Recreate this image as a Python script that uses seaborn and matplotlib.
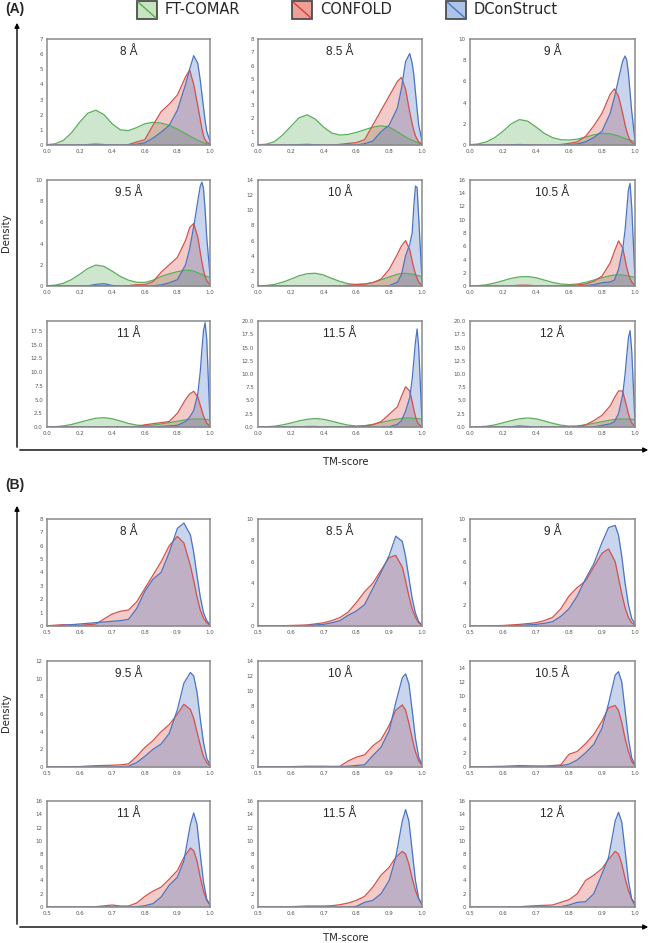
import numpy as np
import pandas as pd
import matplotlib
matplotlib.use('Agg')
import matplotlib.pyplot as plt
import seaborn as sns
from matplotlib.patches import Rectangle, FancyArrowPatch
from matplotlib.lines import Line2D

# distance cutoffs (one subplot each)
cutoffs = ['8 Å', '8.5 Å', '9 Å', '9.5 Å', '10 Å', '10.5 Å', '11 Å', '11.5 Å', '12 Å']

# ---- panel (A): density of TM-score ----
x_a = [0.0, 0.05, 0.1, 0.15, 0.2, 0.25, 0.3, 0.35, 0.4, 0.45, 0.5, 0.55, 0.6, 0.65, 0.7,
       0.75, 0.8, 0.85, 0.875, 0.9, 0.925, 0.94, 0.95, 0.96, 0.97, 0.98, 1.0]

ftcomar_a = [
    [0.02, 0.08, 0.3, 0.8, 1.5, 2.1, 2.3, 2.0, 1.4, 1.0, 0.95, 1.15, 1.4, 1.5, 1.45, 1.3, 1.05, 0.75, 0.6, 0.45, 0.32, 0.25, 0.2, 0.16, 0.12, 0.09, 0.04],
    [0.02, 0.06, 0.25, 0.75, 1.4, 2.05, 2.28, 1.95, 1.35, 0.9, 0.75, 0.8, 0.95, 1.15, 1.35, 1.45, 1.35, 1.0, 0.8, 0.6, 0.45, 0.35, 0.3, 0.25, 0.2, 0.15, 0.05],
    [0.03, 0.1, 0.3, 0.7, 1.3, 2.0, 2.4, 2.25, 1.7, 1.1, 0.7, 0.5, 0.47, 0.55, 0.75, 0.95, 1.1, 1.05, 0.95, 0.85, 0.7, 0.6, 0.55, 0.5, 0.45, 0.4, 0.3],
    [0.03, 0.08, 0.25, 0.6, 1.1, 1.65, 1.98, 1.85, 1.4, 0.9, 0.55, 0.35, 0.33, 0.55, 0.9, 1.15, 1.35, 1.5, 1.48, 1.4, 1.25, 1.15, 1.1, 1.0, 0.95, 0.9, 0.8],
    [0.02, 0.07, 0.2, 0.5, 0.9, 1.35, 1.62, 1.68, 1.45, 1.0, 0.6, 0.3, 0.2, 0.25, 0.45, 0.8, 1.2, 1.55, 1.65, 1.68, 1.6, 1.55, 1.5, 1.45, 1.4, 1.35, 1.25],
    [0.02, 0.06, 0.18, 0.45, 0.8, 1.15, 1.38, 1.42, 1.25, 0.9, 0.55, 0.3, 0.22, 0.3, 0.55, 0.9, 1.25, 1.55, 1.65, 1.7, 1.65, 1.6, 1.55, 1.5, 1.45, 1.4, 1.3],
    [0.02, 0.06, 0.2, 0.45, 0.85, 1.25, 1.6, 1.7, 1.5, 1.1, 0.65, 0.35, 0.25, 0.35, 0.55, 0.8, 1.05, 1.3, 1.4, 1.45, 1.45, 1.45, 1.45, 1.42, 1.4, 1.38, 1.3],
    [0.02, 0.05, 0.15, 0.4, 0.75, 1.15, 1.45, 1.6, 1.45, 1.1, 0.7, 0.35, 0.2, 0.25, 0.5, 0.85, 1.2, 1.5, 1.6, 1.7, 1.7, 1.65, 1.62, 1.6, 1.58, 1.55, 1.5],
    [0.02, 0.05, 0.15, 0.4, 0.8, 1.2, 1.55, 1.7, 1.55, 1.15, 0.7, 0.35, 0.18, 0.2, 0.4, 0.7, 1.0, 1.3, 1.4, 1.5, 1.5, 1.5, 1.5, 1.5, 1.48, 1.45, 1.4],
]
confold_a = [
    [0, 0, 0, 0, 0, 0, 0, 0, 0, 0, 0.03, 0.2, 0.35, 1.3, 2.2, 2.7, 3.3, 4.5, 4.95, 4.0, 2.6, 1.7, 1.1, 0.6, 0.35, 0.2, 0.05],
    [0, 0, 0, 0, 0, 0, 0, 0, 0, 0, 0.05, 0.12, 0.18, 0.4, 1.5, 2.6, 3.7, 4.8, 5.1, 4.2, 2.5, 1.6, 1.1, 0.7, 0.45, 0.25, 0.05],
    [0, 0, 0, 0, 0, 0, 0, 0, 0, 0, 0, 0.05, 0.15, 0.3, 0.8, 1.8, 3.0, 4.8, 5.3, 4.6, 3.0, 1.9, 1.3, 0.8, 0.45, 0.25, 0.05],
    [0, 0, 0, 0, 0, 0, 0, 0, 0, 0, 0.03, 0.12, 0.12, 0.4, 1.3, 2.0, 2.7, 4.3, 5.5, 5.9, 4.6, 3.2, 2.3, 1.5, 0.9, 0.5, 0.1],
    [0, 0, 0, 0, 0, 0, 0, 0, 0, 0, 0.03, 0.1, 0.2, 0.25, 0.45, 0.9, 2.2, 4.2, 5.3, 6.0, 4.8, 3.3, 2.4, 1.6, 1.0, 0.5, 0.1],
    [0, 0, 0, 0, 0, 0.03, 0.12, 0.12, 0.03, 0, 0, 0, 0.08, 0.15, 0.3, 0.7, 1.5, 3.5, 5.2, 6.8, 5.8, 4.0, 2.8, 1.8, 1.1, 0.6, 0.1],
    [0, 0, 0, 0, 0, 0, 0, 0, 0, 0, 0, 0.05, 0.4, 0.6, 0.8, 1.0, 2.5, 5.0, 6.0, 6.5, 5.5, 4.0, 3.0, 2.0, 1.3, 0.7, 0.1],
    [0, 0, 0, 0, 0, 0.03, 0.1, 0.1, 0.03, 0, 0, 0, 0.05, 0.2, 0.4, 1.0, 2.4, 3.8, 5.8, 7.6, 6.8, 4.8, 3.3, 2.0, 1.1, 0.5, 0.05],
    [0, 0, 0, 0, 0, 0, 0, 0, 0, 0, 0, 0, 0.03, 0.1, 0.4, 1.2, 2.2, 4.0, 5.5, 6.8, 6.8, 5.0, 3.8, 2.5, 1.5, 0.8, 0.1],
]
dconstruct_a = [
    [0, 0, 0, 0, 0, 0.03, 0.06, 0.03, 0, 0, 0, 0.05, 0.15, 0.45, 0.85, 1.3, 2.3, 4.0, 5.0, 5.9, 5.4, 4.3, 3.4, 2.5, 1.6, 0.9, 0.25],
    [0, 0, 0, 0, 0, 0.03, 0.05, 0.02, 0, 0, 0, 0, 0, 0.1, 0.3, 1.0, 1.5, 2.8, 4.3, 6.3, 6.9, 6.2, 5.3, 4.0, 2.7, 1.5, 0.3],
    [0, 0, 0, 0, 0, 0.02, 0.05, 0.02, 0, 0, 0, 0, 0.03, 0.1, 0.3, 0.7, 1.3, 3.0, 4.5, 6.2, 7.9, 8.4, 8.0, 6.8, 5.0, 3.2, 0.4],
    [0, 0, 0, 0, 0, 0.02, 0.15, 0.22, 0.05, 0, 0, 0, 0, 0.02, 0.1, 0.3, 0.6, 2.0, 3.5, 5.6, 8.0, 9.4, 9.8, 9.2, 7.2, 4.6, 1.0],
    [0, 0, 0, 0, 0, 0, 0, 0, 0, 0, 0, 0, 0, 0, 0, 0, 0.05, 0.5, 1.5, 4.0, 5.5, 7.0, 10.5, 13.2, 13.0, 9.0, 0.8],
    [0, 0, 0, 0, 0, 0, 0, 0, 0, 0, 0, 0, 0, 0, 0.05, 0.2, 0.5, 0.6, 0.9, 2.5, 5.5, 8.5, 11.5, 14.5, 15.5, 12.0, 1.0],
    [0, 0, 0, 0, 0, 0, 0, 0, 0, 0, 0, 0, 0, 0, 0.1, 0.2, 0.3, 1.0, 1.8, 3.0, 6.0, 10.0, 14.0, 17.5, 19.0, 16.0, 1.0],
    [0, 0, 0, 0, 0, 0, 0, 0, 0, 0, 0, 0, 0, 0, 0, 0, 0.05, 0.5, 1.2, 3.0, 5.5, 9.0, 12.5, 16.0, 18.5, 15.0, 0.8],
    [0, 0, 0, 0, 0, 0.05, 0.2, 0.1, 0, 0, 0, 0, 0, 0, 0, 0, 0.3, 0.6, 1.0, 2.5, 6.0, 10.0, 13.5, 16.8, 18.2, 14.5, 0.8],
]

# ---- panel (B) ----
x_b = [0.5, 0.55, 0.6, 0.65, 0.7, 0.725, 0.75, 0.775, 0.8, 0.825, 0.85, 0.875, 0.9,
       0.92, 0.94, 0.95, 0.96, 0.97, 0.98, 0.99, 1.0]

confold_b = [
    [0.02, 0.1, 0.05, 0.15, 0.9, 1.1, 1.2, 1.8, 2.8, 3.8, 4.8, 6.0, 6.7, 6.2, 4.5, 3.4, 2.2, 1.2, 0.6, 0.25, 0.05],
    [0, 0, 0.05, 0.1, 0.3, 0.5, 0.8, 1.3, 2.2, 3.2, 4.0, 5.2, 6.4, 6.6, 5.5, 4.2, 2.8, 1.6, 0.8, 0.3, 0.05],
    [0, 0, 0.05, 0.15, 0.3, 0.5, 0.8, 1.6, 2.8, 3.6, 4.2, 5.5, 6.8, 7.2, 6.0, 4.5, 3.0, 1.7, 0.8, 0.3, 0.1],
    [0.03, 0.04, 0.05, 0.15, 0.2, 0.25, 0.35, 1.2, 2.2, 3.0, 4.0, 4.8, 6.0, 7.1, 6.5, 5.5, 4.0, 2.5, 1.2, 0.5, 0.1],
    [0.03, 0.05, 0.05, 0.1, 0.1, 0.08, 0.1, 0.8, 1.3, 1.6, 2.8, 3.6, 5.5, 7.5, 8.2, 7.5, 5.8, 3.8, 2.0, 0.8, 0.2],
    [0.02, 0.05, 0.1, 0.2, 0.15, 0.15, 0.2, 0.3, 1.8, 2.2, 3.3, 4.6, 6.5, 8.4, 8.7, 8.0, 6.3, 4.0, 2.2, 0.8, 0.2],
    [0, 0, 0, 0.05, 0.3, 0.15, 0.15, 0.6, 1.6, 2.4, 3.0, 4.2, 5.5, 7.5, 8.9, 8.5, 7.0, 4.5, 2.4, 1.0, 0.3],
    [0, 0, 0.05, 0.15, 0.15, 0.2, 0.35, 0.6, 1.0, 1.6, 3.0, 4.8, 6.0, 7.5, 8.4, 8.0, 6.5, 4.3, 2.5, 1.2, 0.5],
    [0, 0, 0, 0.05, 0.2, 0.25, 0.3, 0.7, 1.1, 2.0, 4.0, 4.8, 5.8, 7.2, 8.4, 8.0, 6.5, 4.3, 2.5, 1.2, 0.6],
]
dconstruct_b = [
    [0, 0.05, 0.15, 0.25, 0.35, 0.4, 0.5, 1.3, 2.6, 3.5, 4.0, 5.5, 7.3, 7.7, 6.8, 5.5, 3.8, 2.2, 1.0, 0.4, 0.1],
    [0, 0, 0, 0.05, 0.15, 0.3, 0.5, 1.0, 1.4, 2.0, 3.5, 5.0, 6.6, 8.4, 7.9, 6.5, 4.5, 2.6, 1.2, 0.4, 0.1],
    [0, 0, 0, 0.05, 0.15, 0.25, 0.4, 0.9, 1.6, 2.8, 4.4, 5.8, 7.8, 9.2, 9.4, 8.5, 6.5, 4.0, 2.0, 0.7, 0.2],
    [0, 0, 0, 0, 0, 0.05, 0.1, 0.5, 1.2, 2.0, 2.6, 3.8, 6.5, 9.5, 10.7, 10.3, 8.5, 5.5, 2.8, 1.0, 0.2],
    [0, 0, 0, 0, 0, 0, 0.05, 0.1, 0.2, 0.3, 1.5, 2.6, 4.8, 8.5, 11.8, 12.3, 11.0, 7.5, 3.8, 1.3, 0.3],
    [0, 0, 0, 0, 0, 0, 0.05, 0.2, 0.4, 1.0, 2.0, 3.2, 5.5, 9.0, 13.0, 13.5, 12.0, 8.0, 4.0, 1.3, 0.3],
    [0, 0, 0, 0, 0, 0, 0, 0.05, 0.2, 0.5, 1.5, 3.3, 4.5, 7.0, 12.5, 14.2, 12.5, 8.0, 3.8, 1.2, 0.3],
    [0, 0, 0, 0, 0, 0, 0, 0, 0.1, 0.7, 1.0, 2.0, 4.0, 7.5, 13.0, 14.7, 13.0, 8.5, 4.0, 1.3, 0.3],
    [0, 0, 0, 0, 0, 0, 0, 0.05, 0.3, 0.7, 0.8, 2.0, 5.0, 7.5, 13.0, 14.3, 12.8, 8.5, 4.0, 1.2, 0.2],
]

# y-axis ranges of each subplot
ylim_a = [7, 8, 10, 10, 14, 16, 19.3, 20, 20]
ystep_a = [1, 1, 2, 2, 2, 2, 2.5, 2.5, 2.5]
ylim_b = [8, 10, 10, 12, 14, 15, 16, 16, 16]
ystep_b = [1, 2, 2, 2, 2, 2, 2, 2, 2]

line_colors = {'FT-COMAR': '#5aae5a', 'CONFOLD': '#d6504b', 'DConStruct': '#4a74c2'}
fill_alpha = 0.3

sns.set_style('white')
plt.rcParams['font.family'] = ['DejaVu Sans']

W, H = 652, 943
fig = plt.figure(figsize=(W / 100, H / 100), dpi=100)


def fx(px):
    return px / W


def fy(py):
    return 1 - py / H


col_px = [(47, 210), (258, 422), (470, 635)]
rows_a = [(39, 145), (180, 286), (321, 427)]
rows_b = [(519, 626), (661, 767), (801, 907)]


def draw_panel(ax, xs, series, ymax, ystep, title, xticks, yfmt):
    frames = []
    for name, ys in series:
        frames.append(pd.DataFrame({'TM-score': xs, 'Density': ys, 'method': name}))
    df = pd.concat(frames, ignore_index=True)
    names = [n for n, _ in series]
    for name, ys in series:
        ax.fill_between(xs, ys, 0, color=line_colors[name], alpha=fill_alpha, lw=0)
    sns.lineplot(data=df, x='TM-score', y='Density', hue='method', hue_order=names,
                 palette=line_colors, ax=ax, legend=False, linewidth=0.9)
    ax.set_xlim(xs[0], xs[-1])
    ax.set_ylim(0, ymax)
    ax.set_xticks(xticks)
    ax.set_xticklabels(['%.1f' % t for t in xticks])
    yt = np.arange(0, ymax + 1e-9, ystep)
    ax.set_yticks(yt)
    ax.set_yticklabels([yfmt % t for t in yt])
    ax.tick_params(length=0, labelsize=4, labelcolor='#555555', pad=3)
    ax.set_xlabel('')
    ax.set_ylabel('')
    for sp in ax.spines.values():
        sp.set_color('#8a8a8a')
        sp.set_linewidth(1.1)
    ax.text(0.5, 0.88, title, transform=ax.transAxes, ha='center', va='center',
            fontsize=8.5, family=['Liberation Sans', 'DejaVu Sans'])


for i in range(9):
    r, c = divmod(i, 3)
    l, rr = col_px[c]
    t, b = rows_a[r]
    ax = fig.add_axes([fx(l), fy(b), (rr - l) / W, (b - t) / H])
    draw_panel(ax, x_a, [('FT-COMAR', ftcomar_a[i]), ('CONFOLD', confold_a[i]),
                         ('DConStruct', dconstruct_a[i])],
               ylim_a[i], ystep_a[i], cutoffs[i], [0, 0.2, 0.4, 0.6, 0.8, 1.0],
               '%.1f' if r == 2 else '%d')

    t, b = rows_b[r]
    ax = fig.add_axes([fx(l), fy(b), (rr - l) / W, (b - t) / H])
    draw_panel(ax, x_b, [('CONFOLD', confold_b[i]), ('DConStruct', dconstruct_b[i])],
               ylim_b[i], ystep_b[i], cutoffs[i], [0.5, 0.6, 0.7, 0.8, 0.9, 1.0], '%d')

# big outer axes with arrows
for top, corner in [(20, 450), (503, 927)]:
    fig.add_artist(FancyArrowPatch((fx(17), fy(corner)), (fx(17), fy(top)),
                                   transform=fig.transFigure, arrowstyle='-|>',
                                   mutation_scale=7, lw=1.0, color='black'))
    fig.add_artist(FancyArrowPatch((fx(17), fy(corner)), (fx(651), fy(corner)),
                                   transform=fig.transFigure, arrowstyle='-|>',
                                   mutation_scale=7, lw=1.0, color='black'))

fig.text(fx(6), fy(233), 'Density', rotation=90, ha='center', va='center', fontsize=7.3)
fig.text(fx(6), fy(713), 'Density', rotation=90, ha='center', va='center', fontsize=7.3)
fig.text(fx(346), fy(462), 'TM-score', ha='center', va='center', fontsize=7.3)
fig.text(fx(346), fy(938), 'TM-score', ha='center', va='center', fontsize=7.3)

fig.text(fx(5), fy(9), '(A)', ha='left', va='center', fontsize=10, fontweight='bold',
         family=['Liberation Sans', 'DejaVu Sans'])
fig.text(fx(5), fy(485), '(B)', ha='left', va='center', fontsize=10, fontweight='bold',
         family=['Liberation Sans', 'DejaVu Sans'])

# legend boxes at the top
legend_items = [('FT-COMAR', 137, '#c6e4bd', '#5aae5a'),
                ('CONFOLD', 292, '#ee9f96', '#d6403a'),
                ('DConStruct', 446, '#aec3e8', '#4a74c2')]
for name, px, fc, lc in legend_items:
    fig.add_artist(Rectangle((fx(px), fy(19)), 20 / W, 18 / H, transform=fig.transFigure,
                             facecolor=fc, edgecolor='#4d4d4d', lw=1.3))
    fig.add_artist(Line2D([fx(px + 1), fx(px + 19)], [fy(2), fy(18)],
                          transform=fig.transFigure, color=lc, lw=1.0))
    fig.text(fx(px + 28), fy(10), name, ha='left', va='center', fontsize=10.5)

fig.savefig('out.png', dpi=100)
